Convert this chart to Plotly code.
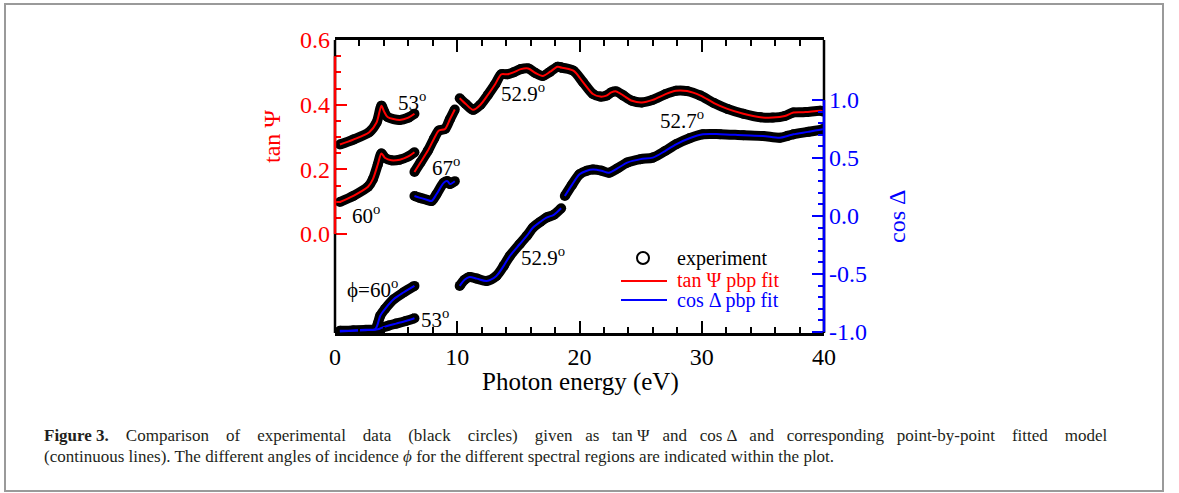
import plotly.graph_objects as go

# ---------------- data ----------------
# tan Psi segments (left axis)
tp53_x = [0.4, 1.5, 2.8, 3.4, 3.8, 4.0, 4.3, 5.3, 6.0, 6.5]
tp53_y = [0.277, 0.292, 0.315, 0.345, 0.397, 0.380, 0.362, 0.353, 0.360, 0.372]

tp60_x = [0.4, 1.5, 2.7, 3.1, 3.5, 3.8, 4.1, 4.6, 5.3, 6.0, 6.5]
tp60_y = [0.099, 0.118, 0.146, 0.170, 0.215, 0.249, 0.235, 0.228, 0.230, 0.240, 0.253]

tp67_x = [6.5, 7.0, 7.6, 8.1, 8.5, 9.0, 9.4, 9.8]
tp67_y = [0.192, 0.222, 0.258, 0.295, 0.320, 0.325, 0.355, 0.385]

tp529_x = [10.2, 10.7, 11.3, 11.9, 12.5, 13.1, 13.6, 14.1, 14.6, 15.2, 15.8, 16.4, 17.0, 17.6, 18.2, 18.5]
tp529_y = [0.420, 0.402, 0.384, 0.400, 0.430, 0.463, 0.494, 0.494, 0.500, 0.510, 0.512, 0.498, 0.489, 0.502, 0.517, 0.515]

tp527_x = [18.45, 19.5, 20.3, 21.1, 21.7, 22.2, 22.6, 23.0, 23.6, 24.3, 25.1, 26.0, 27.0, 27.9, 28.8,
           29.9, 31.0, 32.1, 33.4, 34.8, 35.8, 36.8, 37.5, 38.5, 39.7, 40.0]
tp527_y = [0.515, 0.505, 0.469, 0.433, 0.425, 0.428, 0.438, 0.441, 0.428, 0.412, 0.407, 0.415, 0.432, 0.443, 0.442,
           0.428, 0.405, 0.387, 0.372, 0.361, 0.360, 0.365, 0.376, 0.377, 0.381, 0.378]

# cos Delta segments (right axis)
cd60_x = [0.4, 1.5, 2.5, 3.3, 3.5, 3.7, 4.1, 4.8, 5.6, 6.5]
cd60_y = [-0.990, -0.987, -0.982, -0.975, -0.930, -0.860, -0.800, -0.718, -0.660, -0.603]

cd53_x = [0.4, 1.5, 2.5, 3.3, 3.6, 3.8, 4.4, 5.0, 5.8, 6.5]
cd53_y = [-0.995, -0.990, -0.985, -0.980, -0.975, -0.965, -0.945, -0.928, -0.905, -0.882]

cd67_x = [6.5, 6.9, 7.5, 7.9, 8.3, 8.9, 9.2, 9.4, 9.8]
cd67_y = [0.172, 0.158, 0.140, 0.129, 0.187, 0.287, 0.300, 0.275, 0.300]

cd529_x = [10.2, 10.6, 11.0, 11.6, 12.4, 13.2, 13.8, 14.3, 15.1, 15.7, 16.2, 16.8, 17.3, 17.9, 18.5]
cd529_y = [-0.603, -0.550, -0.526, -0.540, -0.560, -0.517, -0.430, -0.345, -0.244, -0.170, -0.100, -0.050, -0.014, 0.010, 0.066]

cd527_x = [18.8, 19.4, 20.0, 20.6, 21.1, 21.8, 22.4, 23.1, 23.9, 25.0, 26.0, 27.0, 27.9, 29.0, 30.1,
           31.5, 33.4, 35.0, 36.4, 37.0, 37.5, 38.7, 39.9, 40.0]
cd527_y = [0.172, 0.270, 0.359, 0.390, 0.400, 0.390, 0.373, 0.410, 0.460, 0.490, 0.503, 0.560, 0.618, 0.670, 0.704,
           0.705, 0.696, 0.690, 0.675, 0.690, 0.704, 0.725, 0.747, 0.750]

x_ticks = [0, 10, 20, 30, 40]
x_minor = [2, 4, 6, 8, 12, 14, 16, 18, 22, 24, 26, 28, 32, 34, 36, 38]
left_ticks = [0.0, 0.2, 0.4, 0.6]
left_ticktext = ["0.0", "0.2", "0.4", "0.6"]
left_minor = [0.05, 0.1, 0.15, 0.25, 0.3, 0.35, 0.45, 0.5, 0.55]
right_ticks = [-1.0, -0.5, 0.0, 0.5, 1.0]
right_ticktext = ["-1.0", "-0.5", "0.0", "0.5", "1.0"]
right_minor = [-0.9, -0.8, -0.7, -0.6, -0.4, -0.3, -0.2, -0.1, 0.1, 0.2, 0.3, 0.4, 0.6, 0.7, 0.8, 0.9]

# angle labels: (x, y on left axis, text)
labels = [
    (6.3, 0.411, "53<sup>o</sup>"),
    (2.54, 0.059, "60<sup>o</sup>"),
    (9.08, 0.210, "67<sup>o</sup>"),
    (15.38, 0.439, "52.9<sup>o</sup>"),
    (28.38, 0.353, "52.7<sup>o</sup>"),
    (17.0, -0.068, "52.9<sup>o</sup>"),
    (3.1, -0.167, "ϕ=60<sup>o</sup>"),
    (8.18, -0.262, "53<sup>o</sup>"),
]

legend_labels = ["experiment", "tan Ψ pbp fit", "cos Δ pbp fit"]

caption_line1 = ("<b>Figure 3.</b>    Comparison    of    experimental    data    (black    circles)    given   as   "
                 "tan Ψ   and   cos Δ   and   corresponding   point-by-point    fitted    model")
caption_line2 = ("(continuous lines). The different angles of incidence <i>ϕ</i> for the different "
                 "spectral regions are indicated within the plot.")

tan_segments = [(tp53_x, tp53_y), (tp60_x, tp60_y), (tp67_x, tp67_y), (tp529_x, tp529_y), (tp527_x, tp527_y)]
cos_segments = [(cd60_x, cd60_y), (cd53_x, cd53_y), (cd67_x, cd67_y), (cd529_x, cd529_y), (cd527_x, cd527_y)]

# ---------------- figure ----------------
FONT = "Liberation Serif"
RED = "#ff0000"
BLUE = "#0000ff"
W, H = 1179, 493
L, R, T, B = 335, 824, 40, 333  # plot area in pixels


def px(x):
    return (x - L) / (R - L)


def py(y):
    return (B - y) / (B - T)


fig = go.Figure()
line_shape = dict(shape="spline", smoothing=0.8)

# experimental data (dense black circles -> thick band)
for sx, sy in tan_segments:
    fig.add_trace(go.Scatter(x=sx, y=sy, mode="lines+markers", yaxis="y",
                             line=dict(color="black", width=10, **line_shape),
                             marker=dict(color="black", size=10),
                             showlegend=False, hoverinfo="skip"))
for sx, sy in cos_segments:
    fig.add_trace(go.Scatter(x=sx, y=sy, mode="lines+markers", yaxis="y2",
                             line=dict(color="black", width=10, **line_shape),
                             marker=dict(color="black", size=10),
                             showlegend=False, hoverinfo="skip"))

# point-by-point fits
for sx, sy in tan_segments:
    fig.add_trace(go.Scatter(x=sx, y=sy, mode="lines", yaxis="y",
                             line=dict(color=RED, width=2, **line_shape), showlegend=False))
for sx, sy in cos_segments:
    fig.add_trace(go.Scatter(x=sx, y=sy, mode="lines", yaxis="y2",
                             line=dict(color=BLUE, width=2, **line_shape), showlegend=False))

annotations = []
for lx, ly, txt in labels:
    annotations.append(dict(x=lx, y=ly, xref="x", yref="y", text=txt, showarrow=False,
                            xanchor="center", yanchor="middle",
                            font=dict(family=FONT, size=21, color="black")))

# axis titles
annotations += [
    dict(x=px(580), y=py(382), xref="paper", yref="paper", text="Photon energy (eV)", showarrow=False,
         xanchor="center", yanchor="middle", font=dict(family=FONT, size=25, color="black")),
    dict(x=px(272), y=py(137), xref="paper", yref="paper", text="tan Ψ", showarrow=False, textangle=-90,
         xanchor="center", yanchor="middle", font=dict(family=FONT, size=24, color=RED)),
    dict(x=px(897), y=py(217), xref="paper", yref="paper", text="cos Δ", showarrow=False, textangle=-90,
         xanchor="center", yanchor="middle", font=dict(family=FONT, size=24, color=BLUE)),
]

# manual legend
legend_colors = ["black", RED, BLUE]
legend_rows = [258, 280, 300]
for lab, col, ry in zip(legend_labels, legend_colors, legend_rows):
    annotations.append(dict(x=px(675), y=py(ry), xref="paper", yref="paper", text=lab, showarrow=False,
                            xanchor="left", yanchor="middle", font=dict(family=FONT, size=20, color=col)))

# caption
annotations += [
    dict(x=px(42), y=py(435), xref="paper", yref="paper", xanchor="left", yanchor="middle", align="left",
         showarrow=False, text=caption_line1, font=dict(family=FONT, size=17, color="#231f20")),
    dict(x=px(42), y=py(456), xref="paper", yref="paper", xanchor="left", yanchor="middle", align="left",
         showarrow=False, text=caption_line2, font=dict(family=FONT, size=17, color="#231f20")),
]

shapes = [
    # outer frame
    dict(type="rect", xref="paper", yref="paper", x0=px(5), x1=px(1163), y0=py(491), y1=py(4),
         line=dict(color="#9a9a9a", width=2), layer="below"),
    # left axis: black full, red part
    dict(type="line", xref="paper", yref="paper", x0=0, x1=0, y0=0, y1=1,
         line=dict(color="black", width=2.5), layer="above"),
    dict(type="line", xref="paper", yref="y", x0=0, x1=0, y0=0.0, y1=0.55,
         line=dict(color=RED, width=2.5), layer="above"),
    # right axis: black full, blue part
    dict(type="line", xref="paper", yref="paper", x0=1, x1=1, y0=0, y1=1,
         line=dict(color="black", width=2.5), layer="above"),
    dict(type="line", xref="paper", yref="y2", x0=1, x1=1, y0=-1.0, y1=1.0,
         line=dict(color=BLUE, width=2.5), layer="above"),
    # legend symbols
    dict(type="circle", xref="paper", yref="paper", x0=px(637), x1=px(649), y0=py(264), y1=py(252),
         line=dict(color="black", width=2), fillcolor="rgba(0,0,0,0)", layer="above"),
    dict(type="line", xref="paper", yref="paper", x0=px(621), x1=px(667), y0=py(281), y1=py(281),
         line=dict(color=RED, width=2), layer="above"),
    dict(type="line", xref="paper", yref="paper", x0=px(621), x1=px(667), y0=py(300), y1=py(300),
         line=dict(color=BLUE, width=2), layer="above"),
]

fig.update_layout(
    width=W, height=H,
    margin=dict(l=L, r=W - R, t=T, b=H - B, pad=0),
    paper_bgcolor="white", plot_bgcolor="white",
    font=dict(family=FONT, size=22, color="black"),
    showlegend=False,
    xaxis=dict(range=[0, 40], showgrid=False, zeroline=False, showline=True, linecolor="black", linewidth=2.5,
               mirror="ticks", ticks="inside", ticklen=12, tickwidth=1.5, tickcolor="black",
               tickmode="array", tickvals=x_ticks, ticktext=[str(v) for v in x_ticks],
               tickfont=dict(family=FONT, size=24, color="black"),
               minor=dict(tickmode="array", tickvals=x_minor, ticks="inside", ticklen=6, tickwidth=1.5,
                          tickcolor="black", showgrid=False)),
    yaxis=dict(range=[-0.306, 0.6], showgrid=False, zeroline=False, showline=False,
               ticks="inside", ticklen=12, tickwidth=1.5, tickcolor=RED,
               tickmode="array", tickvals=left_ticks, ticktext=left_ticktext,
               tickfont=dict(family=FONT, size=24, color=RED), ticklabelstandoff=4,
               minor=dict(tickmode="array", tickvals=left_minor, ticks="inside", ticklen=6, tickwidth=1.5,
                          tickcolor=RED, showgrid=False)),
    yaxis2=dict(range=[-1.009, 1.517], overlaying="y", side="right", anchor="x",
                showgrid=False, zeroline=False, showline=False,
                ticks="inside", ticklen=12, tickwidth=1.5, tickcolor=BLUE,
                tickmode="array", tickvals=right_ticks, ticktext=right_ticktext,
                tickfont=dict(family=FONT, size=24, color=BLUE), ticklabelstandoff=4,
                minor=dict(tickmode="array", tickvals=right_minor, ticks="inside", ticklen=6, tickwidth=1.5,
                           tickcolor=BLUE, showgrid=False)),
    annotations=annotations,
    shapes=shapes,
)

fig.write_html("out.html")
